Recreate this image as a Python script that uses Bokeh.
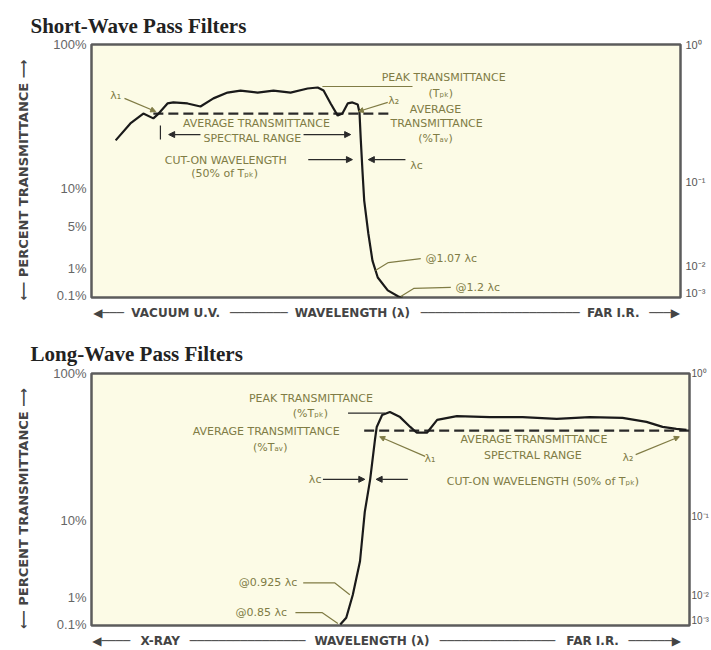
from bokeh.plotting import figure
from bokeh.models import Range1d, LinearAxis, FixedTicker, Arrow, NormalHead
from bokeh.core.properties import value
from bokeh.embed import file_html
from bokeh.resources import INLINE

# ---------------- data (x: relative wavelength position 0-100, y: position on transmittance axis 0-100)
# Short-wave pass filter curve
sw_x = [4.1, 6.6, 8.8, 10.5, 11.4, 12.9, 13.9, 16.3, 18.5, 20.7, 23.1, 25.3, 28.2, 30.9, 33.8, 36.7,
        38.4, 39.4, 40.6, 41.8, 42.6, 43.5, 44.3, 45.2, 45.5, 45.7, 46.0, 46.3, 47.0, 47.7, 48.6, 50.3, 52.1, 52.8]
sw_y = [62.1, 68.8, 72.7, 70.8, 72.7, 76.7, 77.1, 76.7, 75.5, 78.7, 81.0, 81.8, 81.0, 81.8, 81.0, 82.6,
        83.0, 81.8, 76.7, 71.9, 72.7, 76.7, 77.1, 76.3, 73.1, 63.2, 50.2, 38.3, 25.3, 14.6, 7.9, 2.8, 0.4, 0.0]
sw_avg_x = [10.5, 50.8]
sw_avg_y = [72.7, 72.7]
sw_left_ticks = [100, 43.1, 28.1, 11.5, 0.8]
sw_left_labels = ["100%", "10%", "5%", "1%", "0.1%"]
sw_right_ticks = [100, 45.5, 12.6, 1.6]
sw_xrow_ticks = [2.9, 14.3, 28.4, 44.3, 69.4, 88.6, 97.3]
sw_xrow_labels = ["◀───", "VACUUM U.V.", "────────", "WAVELENGTH (λ)",
                  "──────────────────────", "FAR I.R.", "───▶"]

# Long-wave pass filter curve
lw_x = [41.6, 42.6, 43.7, 44.9, 45.7, 46.6, 47.4, 47.7, 48.6, 49.9, 51.6, 53.3, 54.4, 56.1, 57.8, 61.1,
        66.6, 72.1, 77.8, 83.3, 88.8, 92.8, 95.5, 97.8, 99.5]
lw_y = [0.4, 3.1, 12.2, 25.5, 45.1, 58.0, 73.7, 78.8, 83.5, 84.7, 82.7, 78.8, 76.5, 76.5, 81.6, 83.1,
        82.7, 82.7, 82.0, 82.7, 82.4, 80.8, 78.8, 78.0, 77.6]
lw_avg_x = [45.6, 100]
lw_avg_y = [77.3, 77.3]
lw_left_ticks = [100, 41.6, 11.0, 0.4]
lw_left_labels = ["100%", "10%", "1%", "0.1%"]
lw_right_ticks = [100, 43.1, 11.8, 2.0]
lw_xrow_ticks = [3.3, 11.5, 26.1, 46.9, 67.9, 83.8, 94.2]
lw_xrow_labels = ["◀────", "X-RAY", "────────────────", "WAVELENGTH (λ)",
                  "────────────────", "FAR I.R.", "──────▶"]

right_labels = ["10⁰", "10⁻¹", "10⁻²", "10⁻³"]

# annotation texts: (text, x, y, align)
sw_texts = [
    ("λ₁", 4.1, 79.8, "center"),
    ("AVERAGE TRANSMITTANCE", 28.0, 68.8, "center"),
    ("SPECTRAL RANGE", 27.3, 62.8, "center"),
    ("CUT-ON WAVELENGTH", 22.8, 54.2, "center"),
    ("(50% of Tₚₖ)", 22.6, 49.0, "center"),
    ("λc", 55.2, 52.2, "center"),
    ("PEAK TRANSMITTANCE", 59.8, 87.0, "center"),
    ("(Tₚₖ)", 59.3, 80.6, "center"),
    ("λ₂", 51.3, 77.9, "center"),
    ("AVERAGE", 58.4, 74.3, "center"),
    ("TRANSMITTANCE", 58.6, 68.8, "center"),
    ("(%Tₐᵥ)", 58.4, 62.8, "center"),
    ("@1.07 λc", 56.7, 15.4, "left"),
    ("@1.2 λc", 61.8, 4.0, "left"),
]
lw_texts = [
    ("PEAK TRANSMITTANCE", 36.7, 90.2, "center"),
    ("(%Tₚₖ)", 36.6, 84.3, "center"),
    ("AVERAGE TRANSMITTANCE", 29.2, 76.9, "center"),
    ("(%Tₐᵥ)", 29.9, 70.6, "center"),
    ("λ₁", 56.6, 66.3, "center"),
    ("AVERAGE TRANSMITTANCE", 74.0, 73.7, "center"),
    ("SPECTRAL RANGE", 73.8, 67.5, "center"),
    ("λ₂", 89.7, 66.7, "center"),
    ("λc", 37.4, 58.0, "center"),
    ("CUT-ON WAVELENGTH (50% of Tₚₖ)", 75.5, 57.3, "center"),
    ("@0.925 λc", 34.4, 16.9, "right"),
    ("@0.85 λc", 32.7, 5.1, "right"),
]

# arrows: (x0, y0, x1, y1, colour-key)
sw_arrows = [
    (18.5, 64.4, 13.1, 64.4, "dark"),
    (36.0, 64.4, 44.0, 64.4, "dark"),
    (36.8, 54.5, 44.3, 54.5, "dark"),
    (53.3, 54.5, 47.0, 54.5, "dark"),
    (5.6, 78.7, 10.9, 73.5, "olive"),
    (50.3, 77.1, 45.3, 73.5, "olive"),
]
sw_leaders = [
    ([11.7, 11.7], [68.0, 62.5], "dark"),
    ([39.2, 54.5], [83.4, 83.4], "olive"),
    ([48.2, 50.4, 55.9], [10.7, 13.8, 15.4], "olive"),
    ([52.5, 54.7, 61.0], [0.4, 3.6, 4.0], "olive"),
]
lw_arrows = [
    (38.7, 58.0, 45.7, 58.0, "dark"),
    (52.9, 58.0, 47.6, 58.0, "dark"),
    (55.8, 67.1, 48.2, 74.9, "olive"),
    (91.0, 67.8, 98.3, 74.9, "olive"),
]
lw_leaders = [
    ([42.9, 49.1], [84.3, 84.3], "dark"),
    ([35.4, 40.7, 43.2], [16.9, 16.9, 12.2], "olive"),
    ([34.1, 38.6, 41.2], [5.1, 5.1, 0.8], "olive"),
]

OLIVE = "#807c45"
DARK = "#2a2a2a"
FRAME_BG = "#fcfbe6"


def make_panel(title, height, bt, bb, br, rstand, rsize, tstand, cx, cy, ax, ay, lticks, llabels, rticks,
               xticks, xlabels, texts, arrows, leaders):
    p = figure(width=711, height=height, x_range=Range1d(0, 100), y_range=Range1d(0, 100),
               output_backend="svg", toolbar_location=None, title=title,
               x_axis_location=None, y_axis_location=None,
               min_border_left=91, min_border_right=br, min_border_top=bt, min_border_bottom=bb)
    p.title.align = "left"
    p.title.offset = -61
    p.title.text_font = "Liberation Serif"
    p.title.text_font_style = "bold"
    p.title.text_font_size = "21px"
    p.title.text_color = "#222222"
    p.title.standoff = tstand
    p.background_fill_color = FRAME_BG
    p.border_fill_color = "white"
    p.outline_line_color = "#5c5c5c"
    p.outline_line_width = 2.5
    p.grid.visible = False

    left = LinearAxis(ticker=FixedTicker(ticks=lticks),
                      major_label_overrides=dict(zip(lticks, llabels)),
                      axis_line_color=None, major_tick_line_color=None, minor_tick_line_color=None,
                      major_tick_out=0, major_tick_in=0, minor_tick_out=0,
                      major_label_standoff=5,
                      major_label_text_font="Liberation Sans", major_label_text_font_size="13px",
                      major_label_text_color="#666666",
                      axis_label="⟵   PERCENT TRANSMITTANCE   ⟶",
                      axis_label_text_font="DejaVu Sans", axis_label_text_font_style="bold",
                      axis_label_text_font_size="13px", axis_label_text_color="#444444",
                      axis_label_standoff=19)
    p.add_layout(left, "left")

    right = LinearAxis(ticker=FixedTicker(ticks=rticks),
                       major_label_overrides=dict(zip(rticks, right_labels)),
                       axis_line_color=None, major_tick_line_color=None, minor_tick_line_color=None,
                       major_tick_out=0, major_tick_in=0, minor_tick_out=0,
                       major_label_standoff=rstand,
                       major_label_text_font="Liberation Sans", major_label_text_font_size=rsize,
                       major_label_text_color="#555555")
    p.add_layout(right, "right")

    below = LinearAxis(ticker=FixedTicker(ticks=xticks),
                       major_label_overrides=dict(zip(xticks, xlabels)),
                       axis_line_color=None, major_tick_line_color=None, minor_tick_line_color=None,
                       major_tick_out=0, major_tick_in=0, minor_tick_out=0,
                       major_label_standoff=8,
                       major_label_text_font="DejaVu Sans", major_label_text_font_style="bold",
                       major_label_text_font_size="12px", major_label_text_color="#444444")
    p.add_layout(below, "below")

    # average transmittance dashed line and curve
    p.line(ax, ay, line_color=DARK, line_width=2.2, line_dash="10 5")
    p.line(cx, cy, line_color="#1a1a1a", line_width=2.2)

    for xs, ys, c in leaders:
        p.line(xs, ys, line_color=OLIVE if c == "olive" else DARK, line_width=1.2)

    for x0, y0, x1, y1, c in arrows:
        col = OLIVE if c == "olive" else DARK
        size = 5 if c == "olive" else 6
        p.add_layout(Arrow(x_start=x0, y_start=y0, x_end=x1, y_end=y1,
                           end=NormalHead(size=size, fill_color=col, line_color=col),
                           line_color=col, line_width=1.2))

    for t, x, y, al in texts:
        p.text(x=[x], y=[y], text=[t], text_align=al, text_baseline="middle",
               text_font=value("DejaVu Sans"), text_font_size="11px", text_color=OLIVE)
    return p


p1 = make_panel("Short-Wave Pass Filters", 330, 44, 33, 31, 5, "11px", 13, sw_x, sw_y, sw_avg_x, sw_avg_y,
                sw_left_ticks, sw_left_labels, sw_right_ticks, sw_xrow_ticks, sw_xrow_labels,
                sw_texts, sw_arrows, sw_leaders)
p2 = make_panel("Long-Wave Pass Filters", 320, 43, 22, 21, 2, "10px", 16, lw_x, lw_y, lw_avg_x, lw_avg_y,
                lw_left_ticks, lw_left_labels, lw_right_ticks, lw_xrow_ticks, lw_xrow_labels,
                lw_texts, lw_arrows, lw_leaders)

# two independent roots, stacked, so each panel keeps its own frame width
open("out.html", "w").write(file_html([p1, p2], INLINE))
